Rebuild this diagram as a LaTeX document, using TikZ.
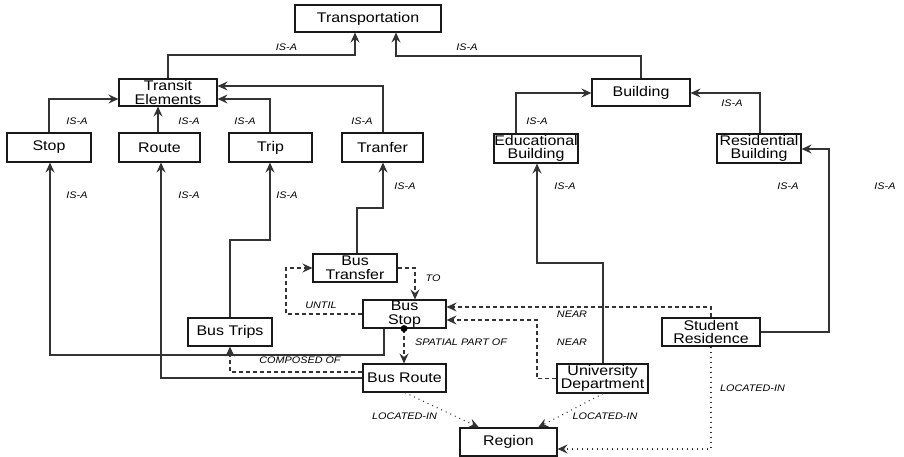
\documentclass[tikz,border=0pt]{standalone}
\usepackage{fontspec}
\setmainfont[FakeStretch=1.14]{Liberation Sans}
\usetikzlibrary{arrows.meta}
\begin{document}
\begin{tikzpicture}[x=1pt,y=-1pt]
\tikzset{
 box/.style={draw=black!90, line width=1.1pt, fill=white, inner sep=0pt, align=center, font=\fontsize{14}{13.5}\selectfont},
 lbl/.style={inner sep=0pt, font=\fontsize{9.5}{10}\selectfont\itshape},
 con/.style={draw=black!80, line width=1.1pt, -{Stealth[length=10pt,width=9pt,inset=3.5pt]}},
 dsh/.style={con, dash pattern=on 4pt off 3pt},
 dtt/.style={con, dash pattern=on 1pt off 4pt},
}
\useasboundingbox (0,0) rectangle (904,457);
% nodes
\node[box, minimum width=146pt, minimum height=27pt] (trans) at (368,18.5) {Transportation};
\node[box, minimum width=98pt, minimum height=27pt] (transit) at (168,92.5) {Transit\\Elements};
\node[box, minimum width=84pt, minimum height=29pt] (stop) at (49,147.5) {Stop};
\node[box, minimum width=81pt, minimum height=29pt] (route) at (159.5,147.5) {Route};
\node[box, minimum width=83pt, minimum height=29pt] (trip) at (270.5,147.5) {Trip};
\node[box, minimum width=81pt, minimum height=29pt] (tranfer) at (382.5,147.5) {Tranfer};
\node[box, minimum width=98pt, minimum height=27pt] (building) at (641,92.5) {Building};
\node[box, minimum width=84pt, minimum height=29pt] (edu) at (536,148.5) {Educational\\Building};
\node[box, minimum width=84pt, minimum height=29pt] (res) at (759,148.5) {Residential\\Building};
\node[box, minimum width=84pt, minimum height=28pt] (btransfer) at (355,268) {Bus\\Transfer};
\node[box, minimum width=83pt, minimum height=28pt] (bstop) at (404.5,314) {Bus\\Stop};
\node[box, minimum width=84pt, minimum height=28pt] (btrips) at (230,332) {Bus Trips};
\node[box, minimum width=83pt, minimum height=28pt] (broute) at (404.5,378) {Bus Route};
\node[box, minimum width=97pt, minimum height=28pt] (region) at (508.5,442) {Region};
\node[box, minimum width=91pt, minimum height=29pt] (udept) at (602.5,378.5) {University\\Department};
\node[box, minimum width=98pt, minimum height=28pt] (sres) at (711,332) {Student\\Residence};
% solid IS-A connectors
\draw[con] (transit.north) |- (355,55) -- (355,0 |- trans.south);
\draw[con] (building.north) |- (396,56) -- (396,0 |- trans.south);
\draw[con] (49,0 |- stop.north) |- (transit.west |- 0,99);
\draw[con] (158,0 |- route.north) -- (158,0 |- transit.south);
\draw[con] (270,0 |- trip.north) |- (transit.east |- 0,99);
\draw[con] (383,0 |- tranfer.north) |- (transit.east |- 0,86);
\draw[con] (384,0 |- bstop.south) |- (50,355) -- (50,0 |- stop.south);
\draw[con] (broute.west) -| (161,0 |- route.south);
\draw[con] (btrips.north) |- (270,240) -- (270,0 |- trip.south);
\draw[con] (357,0 |- btransfer.north) |- (383,208) -- (383,0 |- tranfer.south);
\draw[con] (516,0 |- edu.north) |- (building.west |- 0,93);
\draw[con] (760,0 |- res.north) |- (building.east |- 0,93);
\draw[con] (603,0 |- udept.north) |- (537,263) -- (537,0 |- edu.south);
\draw[con] (sres.east) -| (829,149) -- (res.east |- 0,149);
% dashed
\draw[dsh] (bstop.west) -| (286,268) -- (btransfer.west);
\draw[dsh] (btransfer.east) -| (415,0 |- bstop.north);
\coordinate (dot) at (404,0 |- bstop.south);
\draw[dsh] (dot) -- (404,0 |- broute.north);
\fill[black] (dot) circle (3.5pt);
\draw[dsh] (broute.west |- 0,372) -| (btrips.south);
\draw[dsh] (711,0 |- sres.north) |- (bstop.east |- 0,307);
\draw[dsh] (udept.west) -| (537,320) -- (bstop.east |- 0,320);
% dotted
\draw[dtt] (405,0 |- broute.south) -- (479,0 |- region.north);
\draw[dtt] (603,0 |- udept.south) -- (538,0 |- region.north);
\draw[dtt] (711,0 |- sres.south) |- (region.east |- 0,449);
% labels
\node[lbl] (l1) at (286.5,47) {IS-A};
\node[lbl] (l2) at (467,47) {IS-A};
\node[lbl] (l3) at (77,121) {IS-A};
\node[lbl] (l4) at (189,121) {IS-A};
\node[lbl] (l5) at (245,121) {IS-A};
\node[lbl] (l6) at (362,121) {IS-A};
\node[lbl] (l7) at (77,195) {IS-A};
\node[lbl] (l8) at (189,195) {IS-A};
\node[lbl] (l9) at (287,195) {IS-A};
\node[lbl] (l10) at (405,186) {IS-A};
\node[lbl] (l11) at (537,121) {IS-A};
\node[lbl] (l12) at (732,103) {IS-A};
\node[lbl] (l13) at (565,186) {IS-A};
\node[lbl] (l14) at (788,186) {IS-A};
\node[lbl] (l15) at (885,186) {IS-A};
\node[lbl] (l16) at (321,305) {UNTIL};
\node[lbl] (l17) at (433,278) {TO};
\node[lbl] (l18) at (461,342) {SPATIAL PART OF};
\node[lbl] (l19) at (300,360) {COMPOSED OF};
\node[lbl] (l20) at (404.5,416) {LOCATED-IN};
\node[lbl] (l21) at (572,314) {NEAR};
\node[lbl] (l22) at (572,342) {NEAR};
\node[lbl] (l23) at (605,416) {LOCATED-IN};
\node[lbl] (l24) at (752.5,388) {LOCATED-IN};
\end{tikzpicture}
\end{document}
